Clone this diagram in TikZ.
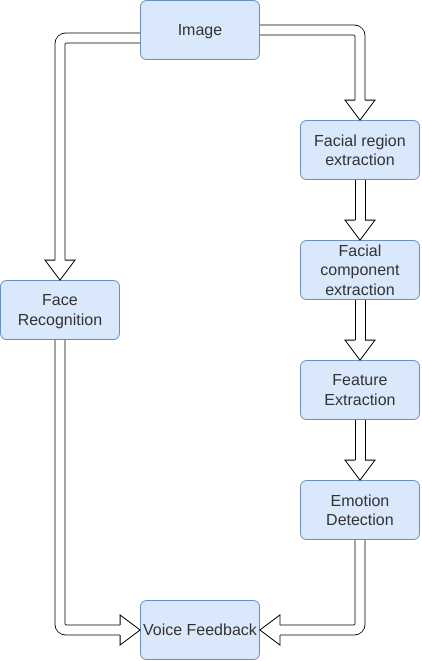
\documentclass[tikz,border=0pt]{standalone}
\usepackage{fontspec}
\setmainfont{Liberation Sans}
\usepackage{tikz}
\usetikzlibrary{calc}
\definecolor{boxfill}{HTML}{DAE8FC}
\definecolor{boxline}{HTML}{6C8EBF}
\definecolor{boxtext}{HTML}{333333}

\tikzset{
    stage/.style={draw=boxline, fill=boxfill, line width=0.8pt, rounded corners=6pt,
        minimum width=119pt, minimum height=59pt, inner sep=1pt, align=center,
        text=boxtext, font=\fontsize{16}{19.2}\selectfont, text depth=0pt},
    shaft/.style={draw=black, line width=0.8pt},
    elbow/.style={shaft, double=white, double distance=9.2pt, rounded corners=6pt},
    tip/.pic={\filldraw[fill=white, draw=black, line width=0.8pt, line join=miter]
        (-5pt,20pt) -- (-15pt,20pt) -- (0,0) -- (15pt,20pt) -- (5pt,20pt);}
}

\begin{document}
\begin{tikzpicture}[x=1pt, y=-1pt]
    \useasboundingbox (0,0) rectangle (421,661);

    % Stages
    \node[stage] (img)   at (200,30)  {Image};
    \node[stage] (freg)  at (360,150) {Facial region\\extraction};
    \node[stage] (fcomp) at (360,270) {Facial\\component\\extraction};
    \node[stage] (feat)  at (360,390) {Feature\\Extraction};
    \node[stage] (emo)   at (360,510) {Emotion\\Detection};
    \node[stage] (frec)  at (60,310)  {Face\\Recognition};
    \node[stage] (voice) at (200,630) {Voice Feedback};

    % Left branch
    \draw[elbow] ([yshift=-8pt]img.west) -| ([yshift=20pt]frec.north);
    \path (frec.north) pic {tip};
    \draw[elbow] (frec.south) |- ([xshift=-20pt]voice.west);
    \path (voice.west) pic[rotate=90] {tip};

    % Right branch
    \draw[elbow] (img.east) -| ([yshift=20pt]freg.north);
    \path (freg.north) pic {tip};
    \foreach \a/\b in {freg/fcomp, fcomp/feat, feat/emo} {
        \draw[shaft] ([xshift=-5pt]\a.south) -- ([shift={(-5pt,20pt)}]\b.north)
                     ([xshift=5pt]\a.south) -- ([shift={(5pt,20pt)}]\b.north);
        \path (\b.north) pic {tip};
    }
    \draw[elbow] (emo.south) |- ([xshift=20pt]voice.east);
    \path (voice.east) pic[rotate=-90] {tip};

\end{tikzpicture}
\end{document}
